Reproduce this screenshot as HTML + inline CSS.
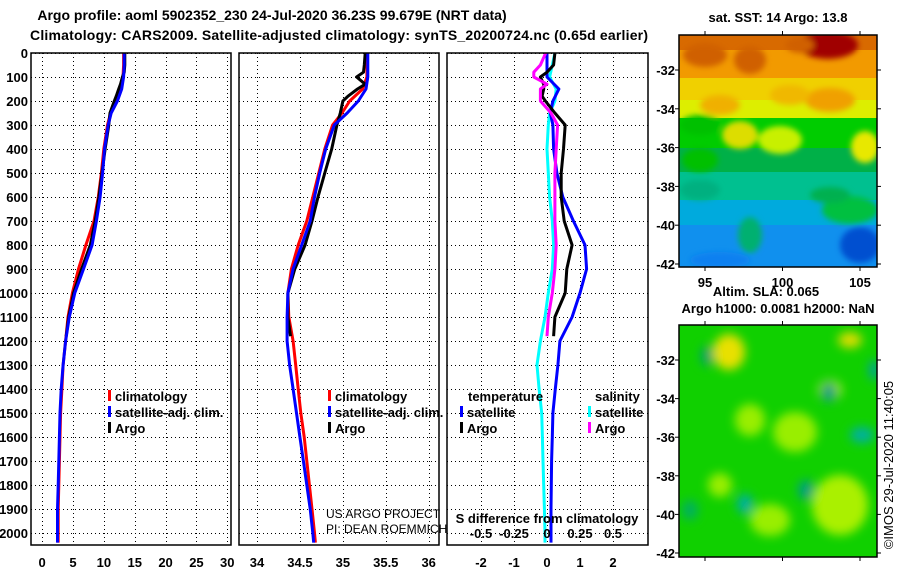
<!DOCTYPE html>
<html><head><meta charset="utf-8">
<style>
body{margin:0;background:#fff;}
svg{display:block;font-family:"Liberation Sans",sans-serif;}
</style></head>
<body>
<svg id="c" width="900" height="580" viewBox="0 0 900 580">
<defs>
<filter id="bl" x="-20%" y="-20%" width="140%" height="140%"><feGaussianBlur stdDeviation="5"/></filter>
<filter id="bl2" x="-20%" y="-20%" width="140%" height="140%"><feGaussianBlur stdDeviation="3"/></filter>
<clipPath id="cm1"><rect x="679" y="35" width="198" height="232"/></clipPath>
<clipPath id="cm2"><rect x="679" y="325" width="198" height="232"/></clipPath>
</defs>
<text x="272" y="20" font-size="14" font-weight="bold" text-anchor="middle">Argo profile: aoml 5902352_230 24-Jul-2020 36.23S 99.679E (NRT data)</text>
<text x="30" y="40" font-size="14" font-weight="bold" textLength="618">Climatology: CARS2009. Satellite-adjusted climatology: synTS_20200724.nc (0.65d earlier)</text>
<g id="plots"></g>
<g id="maps"></g>
</svg>
<script>
// ---- data ----
const depths = [0,50,100,150,200,250,300,400,500,600,700,800,900,1000,1100,1200,1300,1400,1500,1600,1700,1800,1900,2000,2040];
const argoDepths = [0,50,80,100,130,150,180,200,250,300,400,500,600,700,800,900,1000,1100,1180];
const tClim = [13.2,13.2,13.1,12.6,11.9,11.1,10.6,10.0,9.6,9.1,8.4,7.1,5.9,4.9,4.2,3.8,3.4,3.2,3.0,2.9,2.8,2.7,2.6,2.6,2.6];
const tSat = [13.3,13.3,13.2,12.9,12.2,11.2,10.7,10.1,9.8,9.4,8.8,8.1,6.7,5.3,4.4,3.8,3.4,3.1,2.9,2.8,2.7,2.6,2.5,2.5,2.5];
const tArgo = [13.4,13.4,13.3,13.0,12.7,12.4,12.0,11.7,11.0,10.8,10.2,9.7,9.2,8.6,7.8,6.4,5.1,4.3,3.9];
const sClim = [35.28,35.28,35.28,35.23,35.08,34.99,34.88,34.79,34.72,34.65,34.58,34.48,34.40,34.36,34.37,34.42,34.45,34.48,34.51,34.55,34.58,34.61,34.64,34.67,34.68];
const sSat = [35.29,35.29,35.29,35.27,35.18,35.05,34.90,34.80,34.73,34.67,34.62,34.52,34.42,34.36,34.35,34.35,34.38,34.42,34.46,34.50,34.54,34.58,34.62,34.65,34.66];
const sArgo = [35.26,35.25,35.24,35.16,35.26,35.17,35.06,35.0,34.97,34.93,34.87,34.79,34.71,34.64,34.56,34.44,34.36,34.36,34.39];
const dtArgo = [0.24,0.2,0.0,-0.2,-0.1,-0.1,-0.15,-0.05,0.24,0.55,0.5,0.43,0.43,0.52,0.76,0.6,0.55,0.24,0.2];
const dsArgo = [-0.01,-0.05,-0.1,-0.1,0.0,-0.05,-0.05,-0.05,0.03,0.08,0.07,0.06,0.06,0.06,0.07,0.06,0.04,0.01,0.0];
const dtSat = [0,0,0,0.36,0.18,0.1,0.18,0.2,0.3,0.48,0.8,1.15,1.2,1.0,0.76,0.39,0.33,0.25,0.18,0.16,0.14,0.13,0.12,0.12,0.12];
const dsSat = [0.06,0.04,0.02,0.07,0.06,0.02,0.01,0.0,0.01,0.02,0.04,0.05,0.04,0.01,-0.015,-0.05,-0.076,-0.06,-0.04,-0.035,-0.03,-0.025,-0.02,-0.015,-0.015];
const depthTicks = [0,100,200,300,400,500,600,700,800,900,1000,1100,1200,1300,1400,1500,1600,1700,1800,1900,2000];
const tTicks = [0,5,10,15,20,25,30];
const sTicks = [34,34.5,35,35.5,36];
const dtTicks = [-2,-1,0,1,2];
const dsTicks = [-0.5,-0.25,0,0.25,0.5];
const dsTickLabels = ['-0.5','-0.25','0','0.25','0.5'];

const NS='http://www.w3.org/2000/svg';
const plots=document.getElementById('plots');
function el(tag,attrs,parent,txt){const e=document.createElementNS(NS,tag);for(const k in attrs)e.setAttribute(k,attrs[k]);if(txt!==undefined)e.textContent=txt;(parent||plots).appendChild(e);return e;}
const top0=53, bot=545;
const yD=d=>top0+d*0.24;
const panels=[
 {l:31,r:231,x0:-1.8,x1:30.6,name:'temperature'},
 {l:239,r:439,x0:33.79,x1:36.12,name:'salinity'},
 {l:447,r:648,x0:-3.03,x1:3.06,name:'difference'}];
function sx(p,v){return p.l+(v-p.x0)/(p.x1-p.x0)*(p.r-p.l);}
const dsScale=v=>sx(panels[2],v*4);
const crisp=v=>Math.round(v)+0.5;

function grid(p,ticks,xf){
  for(const d of depthTicks){const y=crisp(yD(d));
    const g=el('line',{x1:p.l,x2:p.r,y1:y,y2:y,stroke:'#000','stroke-width':1,'stroke-dasharray':'1,3','shape-rendering':'crispEdges'});
    }
  for(const t of ticks){const x=crisp(xf(t));
    const g=el('line',{x1:x,x2:x,y1:top0,y2:bot,stroke:'#000','stroke-width':1,'stroke-dasharray':'1,3','shape-rendering':'crispEdges'});
    }
}
function frame(p){const r=el('rect',{x:p.l,y:top0,width:p.r-p.l,height:bot-top0,fill:'none',stroke:'#000','stroke-width':1.5});
  }
function line(xs,ys,xf,color,name){
  let pts=xs.map((v,i)=>xf(v).toFixed(1)+','+yD(ys[i]).toFixed(1)).join(' ');
  const pl=el('polyline',{points:pts,fill:'none',stroke:color,'stroke-width':3,'stroke-linejoin':'round'});
  }
function xlabels(list,labels,xf,y,name){list.forEach((t,i)=>{
  const tx=el('text',{x:xf(t),y:y,'font-size':13,'font-weight':'bold','text-anchor':'middle'},plots,labels?labels[i]:String(t));
  });}

const p1=panels[0],p2=panels[1],p3=panels[2];
grid(p1,tTicks,v=>sx(p1,v));
grid(p2,sTicks,v=>sx(p2,v));
grid(p3,dtTicks,v=>sx(p3,v));
line(tClim,depths,v=>sx(p1,v),'#ff0000','temp-climatology-line');
line(tArgo,argoDepths,v=>sx(p1,v),'#000000','temp-argo-line');
line(tSat,depths,v=>sx(p1,v),'#0000ff','temp-satellite-line');
line(sClim,depths,v=>sx(p2,v),'#ff0000','sal-climatology-line');
line(sArgo,argoDepths,v=>sx(p2,v),'#000000','sal-argo-line');
line(sSat,depths,v=>sx(p2,v),'#0000ff','sal-satellite-line');
line(dsSat,depths,dsScale,'#00ffff','sdiff-satellite-line');
line(dtSat,depths,v=>sx(p3,v),'#0000ff','tdiff-satellite-line');
line(dtArgo,argoDepths,v=>sx(p3,v),'#000000','tdiff-argo-line');
line(dsArgo,argoDepths,dsScale,'#ff00ff','sdiff-argo-line');
panels.forEach(frame);
for(const d of depthTicks){const t=el('text',{x:28,y:yD(d)+5,'font-size':13,'font-weight':'bold','text-anchor':'end'},plots,String(d));
  }
xlabels(tTicks,null,v=>sx(p1,v),567,'temp-tick-label');
xlabels(sTicks,null,v=>sx(p2,v),567,'sal-tick-label');
xlabels(dtTicks,null,v=>sx(p3,v),567,'tdiff-tick-label');
xlabels(dsTicks,dsTickLabels,dsScale,538,'sdiff-tick-label');
let t=el('text',{x:547,y:523,'font-size':13,'font-weight':'bold','text-anchor':'middle'},plots,'S difference from climatology');

t=el('text',{x:326,y:518,'font-size':12},plots,'US ARGO PROJECT');

t=el('text',{x:326,y:533,'font-size':12},plots,'PI: DEAN ROEMMICH');


function legend(x,y,color,label,name){
  const r=el('rect',{x:x,y:y-11,width:3,height:11,fill:color});
  
  const tx=el('text',{x:x+7,y:y,'font-size':13,'font-weight':'bold'},plots,label);
  }
legend(108,401,'#ff0000','climatology','legend-climatology');
legend(108,417,'#0000ff','satellite-adj. clim.','legend-satellite-adj');
legend(108,433,'#000000','Argo','legend-argo');
legend(328,401,'#ff0000','climatology','legend2-climatology');
legend(328,417,'#0000ff','satellite-adj. clim.','legend2-satellite-adj');
legend(328,433,'#000000','Argo','legend2-argo');
t=el('text',{x:468,y:401,'font-size':13,'font-weight':'bold'},plots,'temperature');

t=el('text',{x:595,y:401,'font-size':13,'font-weight':'bold'},plots,'salinity');

legend(460,417,'#0000ff','satellite','legend-t-satellite');
legend(460,433,'#000000','Argo','legend-t-argo');
legend(588,417,'#00ffff','satellite','legend-s-satellite');
legend(588,433,'#ff00ff','Argo','legend-s-argo');

// ---- maps ----
const maps=document.getElementById('maps');
function m(tag,attrs,txt){return el(tag,attrs,maps,txt);}
let g=m('g',{'clip-path':'url(#cm1)'});
const bands=[[35,'#d86a00'],[50,'#f29a00'],[78,'#f0d000'],[100,'#ddee00'],[118,'#00cc00'],[148,'#00b048'],[172,'#00c090'],[200,'#00aadd'],[225,'#1090ee'],[267,'#1090ee']];
for(let i=0;i<bands.length-1;i++){el('rect',{x:679,y:bands[i][0],width:198,height:bands[i+1][0]-bands[i][0]+1,fill:bands[i][1]},g);}
const g2=el('g',{filter:'url(#bl2)'},g);
[[828,45,30,14,'#a00000'],[705,55,22,12,'#d06000'],[750,60,16,14,'#d06000'],[800,45,14,8,'#d06000'],[830,100,25,12,'#f0a000'],[720,105,20,10,'#f0b000'],[790,95,20,10,'#f0b800'],[740,135,18,14,'#dddd00'],[780,140,22,14,'#c8f000'],[865,147,14,16,'#e8e800'],[700,125,20,10,'#00c000'],[850,210,28,14,'#00c040'],[830,195,20,8,'#00b050'],[750,235,12,18,'#00b070'],[860,245,20,18,'#0050d0'],[700,160,18,12,'#00c000'],[700,190,20,10,'#00b080'],[720,260,30,8,'#1080f0']].forEach(b=>el('ellipse',{cx:b[0],cy:b[1],rx:b[2],ry:b[3],fill:b[4]},g2));
m('rect',{x:679,y:35,width:198,height:232,fill:'none',stroke:'#000','stroke-width':1.5});
g=m('g',{'clip-path':'url(#cm2)'});
el('rect',{x:679,y:325,width:198,height:232,fill:'#10d000'},g);
const g3=el('g',{filter:'url(#bl)'},g);
[[729,352,10,12,'#f0a000'],[729,352,16,18,'#e8e000'],[795,432,22,20,'#99ee00'],[750,420,15,16,'#99ee00'],[830,390,12,10,'#aaf000'],[850,340,12,8,'#dddd00'],[840,505,28,30,'#aaf000'],[770,520,20,16,'#99ee00'],[720,485,12,12,'#99ee00'],[745,504,8,10,'#00b0a0'],[806,490,8,10,'#00a080'],[829,392,8,10,'#00a080'],[862,435,12,8,'#00b0a0'],[707,356,6,10,'#00a070'],[874,370,5,10,'#00a0a0'],[690,510,8,10,'#00b060']].forEach(b=>el('ellipse',{cx:b[0],cy:b[1],rx:b[2],ry:b[3],fill:b[4]},g3));
m('rect',{x:679,y:325,width:198,height:232,fill:'none',stroke:'#000','stroke-width':1.5});
const latT=[-32,-34,-36,-38,-40,-42];
const lonT=[95,100,105];
latT.forEach(la=>{
  const y1=70+(-32-la)*19.4, y2=360+(-32-la)*19.3;
  [[y1,'sst'],[y2,'sla']].forEach(([y,n])=>{
    m('line',{x1:675,x2:679,y1:y,y2:y,stroke:'#000'});m('line',{x1:877,x2:881,y1:y,y2:y,stroke:'#000'});
    const tx=m('text',{x:675,y:y+5,'font-size':13,'font-weight':'bold','text-anchor':'end'},String(la));
    });
});
lonT.forEach(lo=>{const x=705+(lo-95)*15.5;
  m('line',{x1:x,x2:x,y1:267,y2:271,stroke:'#000'});m('line',{x1:x,x2:x,y1:31,y2:35,stroke:'#000'});
  m('line',{x1:x,x2:x,y1:557,y2:561,stroke:'#000'});m('line',{x1:x,x2:x,y1:321,y2:325,stroke:'#000'});
  const tx=m('text',{x:x,y:287,'font-size':13,'font-weight':'bold','text-anchor':'middle'},String(lo));
  });
t=m('text',{x:778,y:22,'font-size':13,'font-weight':'bold','text-anchor':'middle'},'sat. SST: 14 Argo: 13.8');

t=m('text',{x:766,y:296,'font-size':13,'font-weight':'bold','text-anchor':'middle'},'Altim. SLA: 0.065');

t=m('text',{x:778,y:313,'font-size':13,'font-weight':'bold','text-anchor':'middle'},'Argo h1000: 0.0081 h2000: NaN');

t=m('text',{x:893,y:465,'font-size':13,'text-anchor':'middle',transform:'rotate(-90 893 465)'},'©IMOS 29-Jul-2020 11:40:05');

</script>
</body></html>
